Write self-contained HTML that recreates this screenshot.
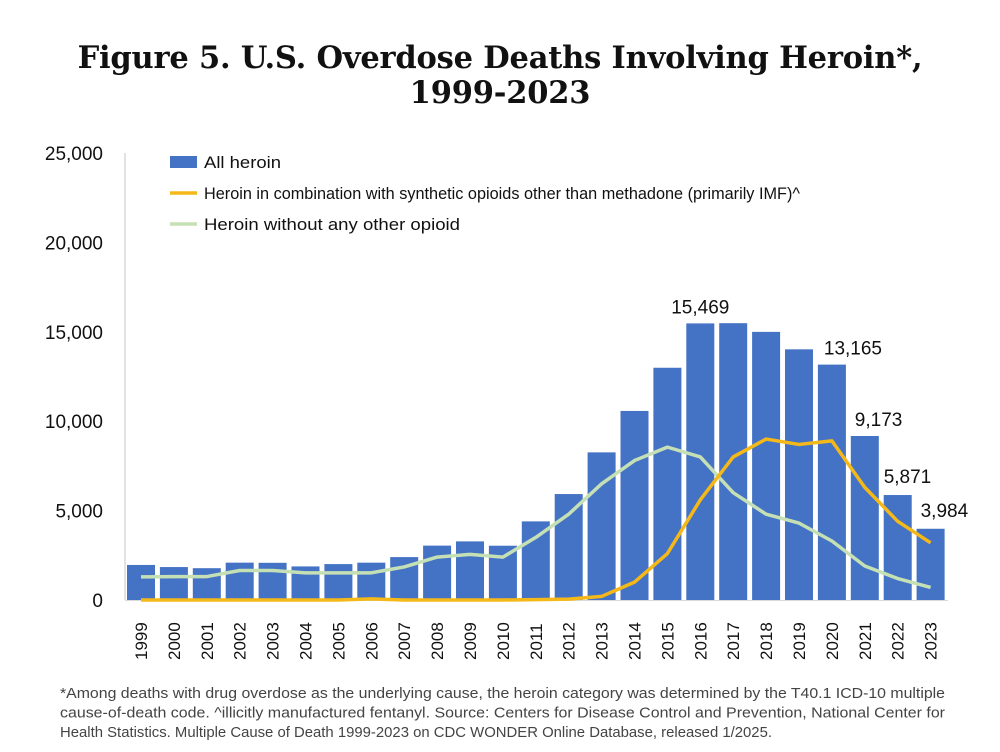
<!DOCTYPE html>
<html><head><meta charset="utf-8"><style>
body{margin:0;background:#fff;width:1000px;height:752px;overflow:hidden;font-family:"Liberation Sans",sans-serif}
#title{position:absolute;left:0;top:41px;width:1000px;text-align:center;font-family:"DejaVu Serif","Liberation Serif",serif;font-weight:bold;font-size:30.5px;line-height:35px;color:#111;letter-spacing:-0.2px}
</style></head><body>
<div id="title">Figure 5. U.S. Overdose Deaths Involving Heroin*,<br>1999-2023</div>
<svg id="chart" width="1000" height="752" style="position:absolute;left:0;top:0"></svg>
<script>
const years=["1999","2000","2001","2002","2003","2004","2005","2006","2007","2008","2009","2010","2011","2012","2013","2014","2015","2016","2017","2018","2019","2020","2021","2022","2023"];
const allHeroin=[1960,1842,1779,2089,2080,1878,2009,2088,2399,3041,3278,3036,4397,5925,8257,10574,12989,15469,15482,14996,14019,13165,9173,5871,3984];
const withSynthetic=[0,0,0,0,0,0,0,60,0,0,0,0,20,50,200,1000,2600,5600,8000,9000,8700,8900,6300,4400,3200];
const heroinOnly=[1290,1310,1310,1650,1650,1520,1520,1520,1850,2400,2550,2400,3500,4800,6500,7800,8550,8000,6000,4800,4300,3300,1900,1200,700];
const yTicks=[0,5000,10000,15000,20000,25000];
const labeledYears=["2016","2020","2021","2022","2023"];
const NS="http://www.w3.org/2000/svg",svg=document.getElementById('chart');
const y0=600,ppu=447/25000,x0=141,step=32.9,bw=28;
const X=i=>x0+i*step, Y=v=>y0-v*ppu;
function mk(t,a,p){const e=document.createElementNS(NS,t);for(const k in a)e.setAttribute(k,a[k]);(p||svg).appendChild(e);return e;}
const fmt=v=>v.toLocaleString('en-US');
let ax=mk('line',{x1:125,y1:153,x2:125,y2:600,stroke:'#d9d9d9','stroke-width':1.5});


yTicks.forEach(v=>{const t=mk('text',{x:103,y:Y(v)+7,'text-anchor':'end','font-size':19,fill:'#111'});t.textContent=fmt(v);

});
years.forEach((yr,i)=>{const r=mk('rect',{x:X(i)-bw/2,y:Y(allHeroin[i]),width:bw,height:allHeroin[i]*ppu,fill:'#4472c4'});


const t=mk('text',{x:0,y:0,transform:`translate(${X(i)+6},${660}) rotate(-90)`,'font-size':17,fill:'#111'});t.textContent=yr;


if(labeledYears.includes(yr)){const l=mk('text',{x:X(i),y:Y(allHeroin[i])-10,'text-anchor':yr==='2016'?'middle':'start','font-size':19,fill:'#111'});
if(yr==='2020'){l.setAttribute('x',X(i)-8);}
if(yr==='2021'){l.setAttribute('x',X(i)-10);}
if(yr==='2022'){l.setAttribute('x',X(i)-14);l.setAttribute('y',Y(allHeroin[i])-12);}
if(yr==='2023'){l.setAttribute('x',X(i)-10);l.setAttribute('y',Y(allHeroin[i])-12);}
l.textContent=fmt(allHeroin[i]);

}});
let bl=mk('line',{x1:125,y1:600.5,x2:948,y2:600.5,stroke:'#d9d9d9','stroke-width':1});


function line(arr,col,name){const p=mk('polyline',{points:arr.map((v,i)=>X(i)+','+Y(v)).join(' '),fill:'none',stroke:col,'stroke-width':3.5,'stroke-linejoin':'round'});

}
line(heroinOnly,'#c5e0b4','line-heroin-only');
line(withSynthetic,'#f5b819','line-heroin-synthetic');
const leg=[['rect','#4472c4','All heroin',77],['line','#f5b819','Heroin in combination with synthetic opioids other than methadone (primarily IMF)^',596],['line','#c5e0b4','Heroin without any other opioid',256]];
leg.forEach((d,i)=>{const cy=162+i*31;
if(d[0]==='rect')mk('rect',{x:170,y:cy-6,width:27,height:12,fill:d[1]});else mk('line',{x1:170,y1:cy,x2:197,y2:cy,stroke:d[1],'stroke-width':3.5});
const t=mk('text',{x:204,y:cy+6,'font-size':16.5,fill:'#111',textLength:d[3],lengthAdjust:'spacingAndGlyphs'});t.textContent=d[2];

});
const foot=[["*Among deaths with drug overdose as the underlying cause, the heroin category was determined by the T40.1 ICD-10 multiple",885],["cause-of-death code. ^illicitly manufactured fentanyl. Source: Centers for Disease Control and Prevention, National Center for",885],["Health Statistics. Multiple Cause of Death 1999-2023 on CDC WONDER Online Database, released 1/2025.",712]];
foot.forEach((f,i)=>{const t=mk('text',{x:60,y:698+i*19.5,'font-size':15,fill:'#444',textLength:f[1],lengthAdjust:'spacingAndGlyphs'});t.textContent=f[0];

});
</script>
</body></html>
